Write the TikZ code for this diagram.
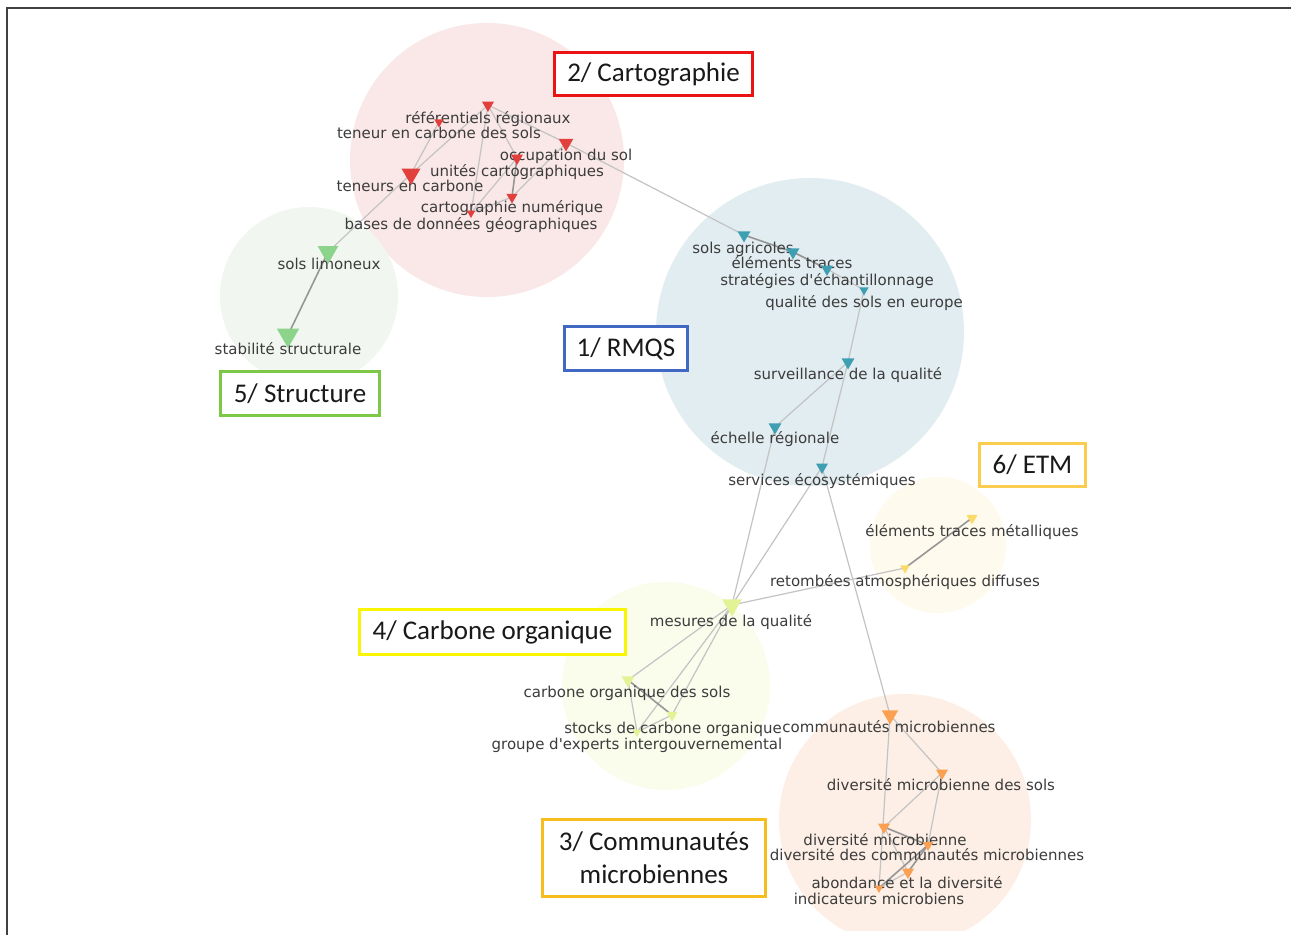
\documentclass[tikz,border=0pt]{standalone}
\usepackage{fontspec}
\setmainfont{DejaVu Sans}
\newfontfamily\boxfont{Carlito}
\usetikzlibrary{shapes.geometric}
\definecolor{cRed}{RGB}{226,64,60}
\definecolor{cGreen}{RGB}{140,212,140}
\definecolor{cTeal}{RGB}{62,158,178}
\definecolor{cYel}{RGB}{250,218,105}
\definecolor{cLime}{RGB}{226,243,150}
\definecolor{cOrg}{RGB}{250,160,80}
\definecolor{bRed}{RGB}{250,231,231}
\definecolor{bGreen}{RGB}{241,247,240}
\definecolor{bTeal}{RGB}{226,237,241}
\definecolor{bYel}{RGB}{254,250,237}
\definecolor{bLime}{RGB}{250,252,236}
\definecolor{bOrg}{RGB}{253,239,229}
\definecolor{kRed}{RGB}{235,20,20}
\definecolor{kBlue}{RGB}{65,105,195}
\definecolor{kGreen}{RGB}{125,200,70}
\definecolor{kGold}{RGB}{250,205,80}
\definecolor{kYellow}{RGB}{250,245,0}
\definecolor{kOrange}{RGB}{245,190,30}
\definecolor{txt}{RGB}{60,60,60}
\definecolor{edgec}{RGB}{195,195,195}
\definecolor{edgeb}{RGB}{150,150,150}
\begin{document}
\begin{tikzpicture}[x=1pt,y=-1pt,
  tri/.style={regular polygon, regular polygon sides=3, shape border rotate=180,
    inner sep=0pt, draw=none, minimum size=#1},
  lbl/.style={text=txt, inner sep=0pt, font=\fontsize{15}{18}\selectfont,
    text height=11pt, text depth=3pt},
  edge/.style={draw=edgec, line width=1.2pt},
  bedge/.style={draw=edgeb, line width=1.6pt},
  grpbox/.style={draw=#1, line width=3pt, fill=white, inner sep=0pt,
    text=black!90, align=center, font=\boxfont\fontsize{27}{33}\selectfont},
  blob/.style={fill=#1, draw=none}
]
\useasboundingbox (0,0) rectangle (1291,935);
\fill[white] (0,0) rectangle (1291,935);

% cluster backgrounds
\begin{scope}
\clip (0,0) rectangle (1291,930);
\fill[blob=bRed] (487,160) circle (137);
\fill[blob=bGreen] (309,296) circle (89);
\fill[blob=bTeal] (810,332) circle (154);
\fill[blob=bYel] (938,545) circle (68);
\fill[blob=bLime] (666,686) circle (104);
\fill[blob=bOrg] (905,820) circle (126);
\end{scope}

% frame
\draw[line width=1.5pt, black!75] (7,935) -- (7,8) -- (1291,8);

% node positions
\coordinate (A) at (488,105);
\coordinate (B) at (439,122);
\coordinate (C) at (566,143);
\coordinate (D) at (517,158);
\coordinate (E) at (411,174);
\coordinate (F) at (512,197);
\coordinate (G) at (471,213);
\coordinate (H) at (328,252);
\coordinate (I) at (288,335);
\coordinate (J) at (744,235);
\coordinate (K) at (793,252);
\coordinate (L) at (827,269);
\coordinate (M) at (864,290);
\coordinate (N) at (848,362);
\coordinate (O) at (775,427);
\coordinate (P) at (822,467);
\coordinate (Q) at (972,518);
\coordinate (R) at (905,568);
\coordinate (S) at (732,605);
\coordinate (T) at (628,680);
\coordinate (U) at (672,715);
\coordinate (V) at (637,732);
\coordinate (W) at (890,715);
\coordinate (X) at (942,773);
\coordinate (Y) at (884,827);
\coordinate (Z) at (928,845);
\coordinate (AA) at (908,872);
\coordinate (AB) at (879,888);

% edges
\path[edge] (A) -- (E);
\path[edge] (B) -- (E);
\path[edge] (A) -- (G);
\path[edge] (A) -- (D);
\path[edge] (A) -- (C);
\path[edge] (C) -- (F);
\path[bedge] (D) -- (F);
\path[edge] (D) -- (G);
\path[edge] (F) -- (G);
\path[edge] (C) -- (J);
\path[edge] (E) -- (H);
\path[bedge] (H) -- (I);
\path[bedge] (J) -- (K);
\path[bedge] (K) -- (L);
\path[edge] (L) -- (M);
\path[edge] (M) -- (N);
\path[edge] (N) -- (O);
\path[edge] (N) -- (P);
\path[edge] (O) -- (S);
\path[edge] (P) -- (S);
\path[edge] (P) -- (W);
\path[bedge] (Q) -- (R);
\path[edge] (R) -- (S);
\path[edge] (S) -- (T);
\path[edge] (S) -- (U);
\path[edge] (S) -- (V);
\path[bedge] (T) -- (U);
\path[edge] (T) -- (V);
\path[edge] (U) -- (V);
\path[edge] (W) -- (X);
\path[edge] (W) -- (AB);
\path[edge] (X) -- (Y);
\path[edge] (X) -- (Z);
\path[bedge] (Y) -- (Z);
\path[edge] (Y) -- (AA);
\path[bedge] (Z) -- (AA);
\path[bedge] (Z) -- (AB);
\path[edge] (AA) -- (AB);

% labels
\node[lbl] (lA) at (488,119) {référentiels régionaux};
\node[lbl] (lB) at (439,134) {teneur en carbone des sols};
\node[lbl] (lC) at (566,156) {occupation du sol};
\node[lbl] (lD) at (517,172) {unités cartographiques};
\node[lbl] (lE) at (410,187) {teneurs en carbone};
\node[lbl] (lF) at (512,208) {cartographie numérique};
\node[lbl] (lG) at (471,225) {bases de données géographiques};
\node[lbl] (lH) at (329,265) {sols limoneux};
\node[lbl] (lI) at (288,350) {stabilité structurale};
\node[lbl] (lJ) at (743,249) {sols agricoles};
\node[lbl] (lK) at (792,264) {éléments traces};
\node[lbl] (lL) at (827,281) {stratégies d\textquotesingle échantillonnage};
\node[lbl] (lM) at (864,303) {qualité des sols en europe};
\node[lbl] (lN) at (848,375) {surveillance de la qualité};
\node[lbl] (lO) at (775,439) {échelle régionale};
\node[lbl] (lP) at (822,481) {services écosystémiques};
\node[lbl] (lQ) at (972,532) {éléments traces métalliques};
\node[lbl] (lR) at (905,582) {retombées atmosphériques diffuses};
\node[lbl] (lS) at (731,622) {mesures de la qualité};
\node[lbl] (lT) at (627,693) {carbone organique des sols};
\node[lbl] (lU) at (673,729) {stocks de carbone organique};
\node[lbl] (lV) at (637,745) {groupe d\textquotesingle experts intergouvernemental};
\node[lbl] (lW) at (889,728) {communautés microbiennes};
\node[lbl] (lX) at (941,786) {diversité microbienne des sols};
\node[lbl] (lY) at (885,841) {diversité microbienne};
\node[lbl] (lZ) at (927,856) {diversité des communautés microbiennes};
\node[lbl] (lAA) at (907,884) {abondance et la diversité};
\node[lbl] (lAB) at (879,900) {indicateurs microbiens};

% triangles
\node[tri=14, fill=cRed] (tA) at (A) {};
\node[tri=11, fill=cRed] (tB) at (B) {};
\node[tri=17, fill=cRed] (tC) at (C) {};
\node[tri=14, fill=cRed] (tD) at (D) {};
\node[tri=22, fill=cRed] (tE) at (E) {};
\node[tri=13, fill=cRed] (tF) at (F) {};
\node[tri=10, fill=cRed] (tG) at (G) {};
\node[tri=24, fill=cGreen] (tH) at (H) {};
\node[tri=26, fill=cGreen] (tI) at (I) {};
\node[tri=15, fill=cTeal] (tJ) at (J) {};
\node[tri=15, fill=cTeal] (tK) at (K) {};
\node[tri=14, fill=cTeal] (tL) at (L) {};
\node[tri=11, fill=cTeal] (tM) at (M) {};
\node[tri=15, fill=cTeal] (tN) at (N) {};
\node[tri=15, fill=cTeal] (tO) at (O) {};
\node[tri=14, fill=cTeal] (tP) at (P) {};
\node[tri=13, fill=cYel] (tQ) at (Q) {};
\node[tri=11, fill=cYel] (tR) at (R) {};
\node[tri=23, fill=cLime] (tS) at (S) {};
\node[tri=15, fill=cLime] (tT) at (T) {};
\node[tri=13, fill=cLime] (tU) at (U) {};
\node[tri=10, fill=cLime] (tV) at (V) {};
\node[tri=19, fill=cOrg] (tW) at (W) {};
\node[tri=14, fill=cOrg] (tX) at (X) {};
\node[tri=14, fill=cOrg] (tY) at (Y) {};
\node[tri=12, fill=cOrg] (tZ) at (Z) {};
\node[tri=14, fill=cOrg] (tAA) at (AA) {};
\node[tri=10, fill=cOrg] (tAB) at (AB) {};

% group boxes
\node[grpbox=kRed, minimum width=198, minimum height=43] (g2) at (653.5,74) {2/ Cartographie};
\node[grpbox=kBlue, minimum width=123, minimum height=44] (g1) at (626,348.5) {1/ RMQS};
\node[grpbox=kGreen, minimum width=159, minimum height=44] (g5) at (300,393.5) {5/ Structure};
\node[grpbox=kGold, minimum width=106, minimum height=43] (g6) at (1032.5,465) {6/ ETM};
\node[grpbox=kYellow, minimum width=266, minimum height=45] (g4) at (492.5,632) {4/ Carbone organique};
\node[grpbox=kOrange, minimum width=223, minimum height=77] (g3) at (654,858) {3/ Communautés\\microbiennes};
\end{tikzpicture}
\end{document}
